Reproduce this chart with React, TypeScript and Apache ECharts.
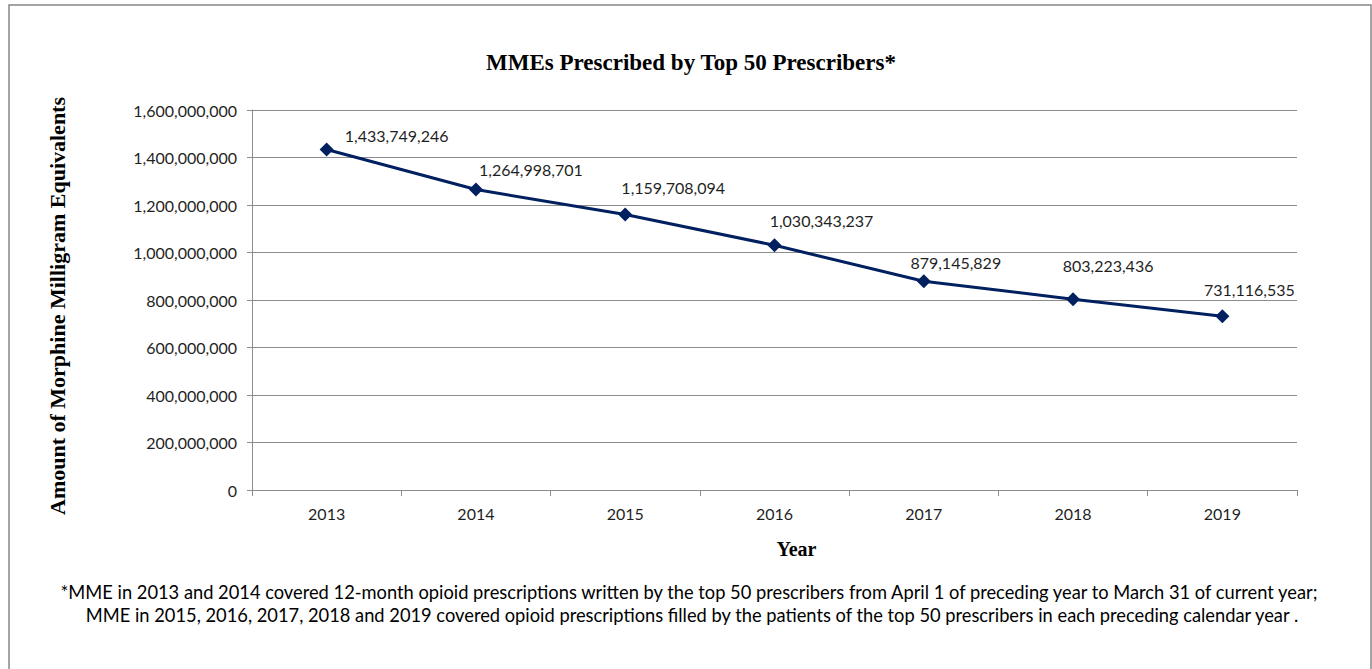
import React, { useEffect, useRef } from "react";
import * as echarts from "echarts";

const years = ["2013", "2014", "2015", "2016", "2017", "2018", "2019"];
const mmeValues = [1433749246, 1264998701, 1159708094, 1030343237, 879145829, 803223436, 731116535];
const labelOffsets: [number, number][] = [
  [70, -14],
  [55, -20],
  [48, -27],
  [47, -25],
  [32, -19],
  [35, -34],
  [27, -27],
];
const titleText = "MMEs Prescribed by Top 50 Prescribers*";
const yAxisTitle = "Amount of Morphine Milligram Equivalents";
const xAxisTitle = "Year";
const footnoteLines = [
  "*MME in 2013 and 2014 covered 12-month opioid prescriptions written by the top 50 prescribers from April 1 of preceding year to March 31 of current year;",
  "MME in 2015, 2016, 2017, 2018 and 2019 covered opioid prescriptions filled by the patients of the top 50 prescribers in each preceding calendar year .",
];

const fmt = (v: number) => v.toLocaleString("en-US");
const SANS = "Lato, 'Liberation Sans', sans-serif";
const SERIF = "'Liberation Serif', 'Times New Roman', serif";

export default function App() {
  const ref = useRef<HTMLDivElement>(null);
  useEffect(() => {
    if (!ref.current) return;
    const chart = echarts.init(ref.current, undefined, { renderer: "svg" });
    chart.setOption({
      animation: false,
      backgroundColor: "#ffffff",
      title: {
        text: titleText,
        left: 686,
        top: 46,
        textAlign: "center",
        textStyle: { fontFamily: SERIF, fontWeight: "bold", fontSize: 23, color: "#000" },
      },
      grid: { left: 252, right: 75, top: 110, bottom: 179, containLabel: false },
      xAxis: {
        type: "category",
        data: years,
        boundaryGap: true,
        name: xAxisTitle,
        nameLocation: "middle",
        nameGap: 49,
        nameTextStyle: {
          fontFamily: SERIF,
          fontWeight: "bold",
          fontSize: 20,
          color: "#000",
          padding: [0, 0, 0, 44],
        },
        axisLine: { lineStyle: { color: "#8c8c8c", width: 1 } },
        axisTick: { show: true, alignWithLabel: false, length: 6, lineStyle: { color: "#8c8c8c" } },
        axisLabel: { margin: 15, fontFamily: SANS, fontSize: 16, color: "#1f1f1f" },
        splitLine: { show: false },
      },
      yAxis: {
        type: "value",
        min: 0,
        max: 1600000000,
        interval: 200000000,
        name: yAxisTitle,
        nameLocation: "middle",
        nameRotate: 90,
        nameGap: 184,
        nameTextStyle: {
          fontFamily: SERIF,
          fontWeight: "bold",
          fontSize: 22,
          color: "#000",
          padding: [0, 12, 0, 0],
        },
        axisLine: { show: true, lineStyle: { color: "#8c8c8c", width: 1 } },
        axisTick: { show: true, length: 5, lineStyle: { color: "#8c8c8c" } },
        axisLabel: { margin: 15, fontFamily: SANS, fontSize: 16, color: "#1f1f1f", formatter: (v: number) => fmt(v) },
        splitLine: { show: true, lineStyle: { color: "#8c8c8c", width: 1 } },
      },
      series: [
        {
          type: "line",
          data: mmeValues.map((v, i) => ({
            value: v,
            label: { offset: labelOffsets[i] },
          })),
          symbol: "diamond",
          symbolSize: 14,
          lineStyle: { color: "#002060", width: 3 },
          itemStyle: { color: "#002060" },
          label: {
            show: true,
            position: "inside",
            align: "center",
            verticalAlign: "middle",
            fontFamily: SANS,
            fontSize: 16,
            color: "#1f1f1f",
            formatter: (p: any) => fmt(p.value),
          },
        },
      ],
      graphic: [
        {
          type: "rect",
          shape: { x: 9, y: 5, width: 1362, height: 700 },
          style: { fill: "none", stroke: "#868686", lineWidth: 1.5 },
          silent: true,
        },
        {
          type: "text",
          x: 689,
          y: 592,
          style: {
            text: footnoteLines[0],
            textAlign: "center",
            textVerticalAlign: "middle",
            fontFamily: SANS,
            fontSize: 18.3,
            fill: "#000",
          },
        },
        {
          type: "text",
          x: 692,
          y: 615,
          style: {
            text: footnoteLines[1],
            textAlign: "center",
            textVerticalAlign: "middle",
            fontFamily: SANS,
            fontSize: 18.3,
            fill: "#000",
          },
        },
      ],
    });
    return () => chart.dispose();
  }, []);
  return (
    <div
      ref={ref}
      style={{ position: "absolute", left: 0, top: 0, width: 1372, height: 669 }}
    />
  );
}
